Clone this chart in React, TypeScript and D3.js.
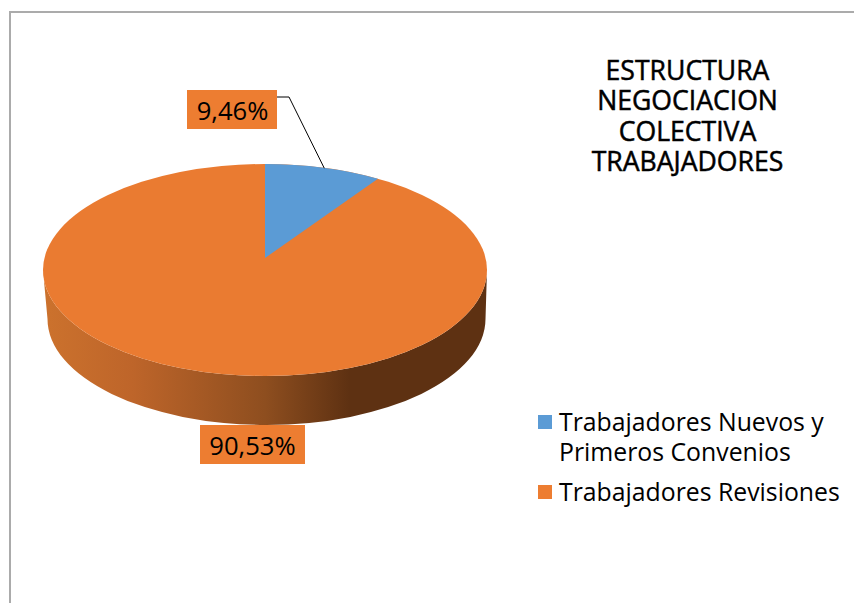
import React from "react";
import * as d3 from "d3";

const categories = ["Trabajadores Nuevos y|Primeros Convenios", "Trabajadores Revisiones"];
const values = [9.46, 90.53];
const labels = ["9,46%", "90,53%"];
const colors = ["#5B9BD5", "#EA7B31"];
const legendColors = ["#5B9BD5", "#ED7D31"];
const titleLines = ["ESTRUCTURA", "NEGOCIACION", "COLECTIVA", "TRABAJADORES"];
const wallStops: [number, string][] = [
  [0, "#CC722D"],
  [0.2, "#BE652A"],
  [0.5, "#8E4E1F"],
  [0.69, "#5E3112"],
  [1, "#5E3112"],
];
const FONT = "'Open Sans', 'Noto Sans', sans-serif";

const cx = 265, cy = 270, rx = 222, ry = 106, apexY = 258;
const depth = 49, bottomRx = 219, bottomCx = 266.5;

const off = (cy - apexY) / ry;
const k = Math.sqrt((1 - off) / (1 + off));
const proj = (a: number): [number, number] => {
  const t = 2 * Math.atan(k * Math.tan(a / 2));
  return [cx + rx * Math.sin(t), cy - ry * Math.cos(t)];
};

export default function App() {
  const pie = d3.pie<number>().sort(null)(values);
  const x = d3.scaleLinear().domain([0, 1]).range([43, 487]);
  const wallPath = `M${cx - rx},${cy} L${bottomCx - bottomRx},${cy + depth} A${bottomRx},${ry} 0 0 0 ${bottomCx + bottomRx},${cy + depth} L${cx + rx},${cy} A${rx},${ry} 0 0 1 ${cx - rx},${cy} Z`;
  const [bx, by] = proj(pie[0].endAngle);
  const [ex, ey] = proj(pie[0].startAngle);
  const blue = `M${cx},${apexY} L${ex},${ey} A${rx},${ry} 0 0 1 ${bx},${by} Z`;
  const [lx, ly] = proj((pie[0].startAngle + pie[0].endAngle) / 2);
  return (
    <svg width={854} height={603} style={{ position: "absolute", left: 0, top: 0, background: "#fff" }}>
      <defs>
        <linearGradient id="wall" gradientUnits="userSpaceOnUse" x1={x(0)} x2={x(1)} y1={0} y2={0}>
          {wallStops.map(([o, c]) => <stop key={o} offset={o} stopColor={c} />)}
        </linearGradient>
      </defs>
      <path d="M10,603 V12 H854" fill="none" stroke="#ABABAB" strokeWidth={2} />
      <path d={wallPath} fill="url(#wall)" />
      <ellipse cx={cx} cy={cy} rx={rx} ry={ry} fill={colors[1]} />
      <path d={blue} fill={colors[0]} />
      <path d={`M277,97 H289 L${lx + 1},${ly + 0.5}`} fill="none" stroke="#000" strokeWidth={1} />
      <rect x={187} y={90} width={90} height={39} fill={legendColors[1]} />
      <text x={232.5} y={120} textAnchor="middle" fontFamily={FONT} fontSize={25.6}>{labels[0]}</text>
      <rect x={200} y={425} width={105} height={39} fill={legendColors[1]} />
      <text x={252.5} y={455} textAnchor="middle" fontFamily={FONT} fontSize={25.6}>{labels[1]}</text>
      {titleLines.map((t, i) => (
        <text key={t} x={687.5} y={80 + i * 30.4} textAnchor="middle" fontFamily={FONT} fontSize={26.6} stroke="#000" strokeWidth={0.5}>{t}</text>
      ))}
      <rect x={538} y={415} width={14} height={14} fill={legendColors[0]} />
      {categories[0].split("|").map((t, i) => (
        <text key={t} x={559} y={431 + i * 30} fontFamily={FONT} fontSize={24.8}>{t}</text>
      ))}
      <rect x={538} y={485} width={14} height={14} fill={legendColors[1]} />
      <text x={559} y={501} fontFamily={FONT} fontSize={24.8}>{categories[1]}</text>
    </svg>
  );
}
